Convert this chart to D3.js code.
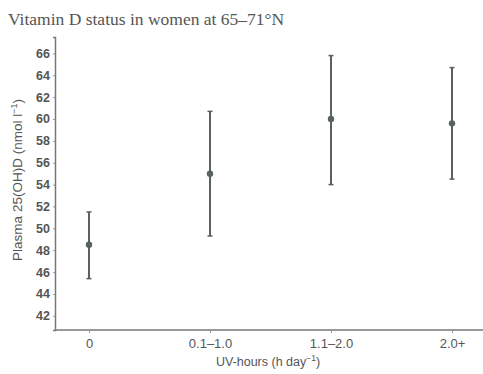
<!DOCTYPE html>
<html>
<head>
<meta charset="utf-8">
<script src="https://cdn.jsdelivr.net/npm/d3@7"></script>
<style>
  body { margin: 0; background: #fff; }
  text { font-family: "Liberation Sans", Arial, sans-serif; }
</style>
</head>
<body>
<div class="visHolder"></div>
<script>
const w = 483;
const h = 374;

// data
const categories = ['0', '0.1\u20131.0', '1.1\u20132.0', '2.0+'];
const means = [48.5, 55.0, 60.0, 59.6];
const upper = [51.5, 60.7, 65.8, 64.7];
const lower = [45.4, 49.3, 54.0, 54.5];
const yTicks = [42, 44, 46, 48, 50, 52, 54, 56, 58, 60, 62, 64, 66];

const ink = '#58625e';
const txt = '#555';

const svg = d3.select('.visHolder').append('svg').attr('width', w).attr('height', h);

const xScale = d3.scalePoint().domain(categories).range([89, 452]);
const yScale = d3.scaleLinear().domain([40.7, 67.5]).range([330, 37]);

// title
svg.append('text')
  .attr('x', 8).attr('y', 25)
  .style('font-family', '"Liberation Serif", "DejaVu Serif", serif')
  .style('font-size', '17.5px')
  .attr('fill', '#555')
  .text('Vitamin D status in women at 65\u201371\u00b0N');

// axes
const yAxis = d3.axisLeft(yScale).tickValues(yTicks).tickSize(2).tickPadding(3);
const gy = svg.append('g').attr('transform', 'translate(55,0)').call(yAxis);
gy.select('.domain').attr('stroke', '#777').attr('stroke-width', 1.5);
gy.selectAll('.tick line').attr('stroke', '#999');
gy.selectAll('.tick text').attr('fill', txt).style('font-size', '12.5px').style('font-weight', 'bold');

const xAxis = d3.axisBottom(xScale).tickSize(3).tickPadding(6);
const gx = svg.append('g').attr('transform', 'translate(0,330)').call(xAxis);
gx.select('.domain').attr('d', 'M55,0H483').attr('stroke', '#777').attr('stroke-width', 1.5);
gx.selectAll('.tick line').attr('stroke', '#999');
gx.selectAll('.tick text').attr('fill', txt).style('font-size', '13px');

// axis labels
svg.append('text')
  .attr('transform', 'translate(22,' + 180 + ') rotate(-90)')
  .attr('text-anchor', 'middle')
  .attr('fill', txt)
  .style('font-size', '13.5px')
  .html('Plasma 25(OH)D (nmol l<tspan dy="-5" font-size="9px">\u22121</tspan><tspan dy="5">)</tspan>');

svg.append('text')
  .attr('x', 268).attr('y', 366)
  .attr('text-anchor', 'middle')
  .attr('fill', txt)
  .style('font-size', '12.5px')
  .html('UV-hours (h day<tspan dy="-5" font-size="8.5px">\u22121</tspan><tspan dy="5">)</tspan>');

// error bars
const idx = d3.range(categories.length);
svg.selectAll('line.bar').data(idx).enter().append('line')
  .attr('class', 'bar')
  .attr('x1', i => xScale(categories[i])).attr('x2', i => xScale(categories[i]))
  .attr('y1', i => yScale(upper[i])).attr('y2', i => yScale(lower[i]))
  .attr('stroke', ink).attr('stroke-width', 2);

[upper, lower].forEach(arr => {
  svg.selectAll(null).data(idx).enter().append('line')
    .attr('x1', i => xScale(categories[i]) - 2.5).attr('x2', i => xScale(categories[i]) + 2.5)
    .attr('y1', i => yScale(arr[i])).attr('y2', i => yScale(arr[i]))
    .attr('stroke', ink).attr('stroke-width', 1.5);
});

svg.selectAll('circle').data(idx).enter().append('circle')
  .attr('cx', i => xScale(categories[i]))
  .attr('cy', i => yScale(means[i]))
  .attr('r', 3.2)
  .attr('fill', ink);
</script>
</body>
</html>
